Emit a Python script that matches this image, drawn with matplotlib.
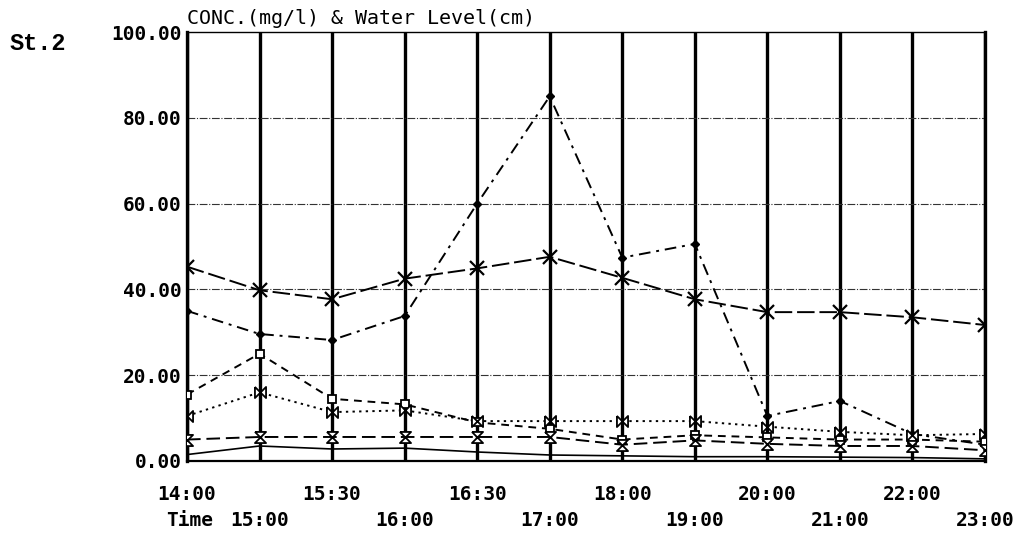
import numpy as np
import matplotlib
matplotlib.use("Agg")
import matplotlib.pyplot as plt
from matplotlib.path import Path

times = ["14:00", "15:00", "15:30", "16:00", "16:30", "17:00",
         "18:00", "19:00", "20:00", "21:00", "22:00", "23:00"]
water_level = [45.3, 39.8, 37.7, 42.5, 44.9, 47.6, 42.7, 37.7, 34.7, 34.7, 33.5, 31.7]
conc_a = [35.0, 29.6, 28.2, 33.8, 60.0, 85.0, 47.4, 50.6, 10.5, 14.0, 6.3, 3.8]
conc_b = [15.5, 25.0, 14.5, 13.2, 9.0, 7.5, 5.0, 6.0, 5.5, 5.0, 5.0, 4.5]
conc_c = [10.5, 16.0, 11.4, 11.8, 9.3, 9.3, 9.3, 9.3, 8.0, 6.8, 6.0, 6.3]
conc_d = [5.0, 5.6, 5.6, 5.6, 5.6, 5.6, 3.8, 4.8, 4.0, 3.5, 3.5, 2.5]
conc_e = [1.5, 3.5, 2.8, 3.0, 2.1, 1.4, 1.2, 1.0, 1.0, 0.9, 0.8, 0.5]
y_ticks = [0, 20, 40, 60, 80, 100]

W, H = 1022, 537
fig = plt.figure(figsize=(W / 100, H / 100), dpi=100)
L, R, T, B = 187, 985, 32, 461
ax = fig.add_axes([L / W, 1 - B / H, (R - L) / W, (B - T) / H])

x = np.arange(len(times))
hourglass = Path([(-1, 1), (1, 1), (-1, -1), (1, -1), (-1, 1)])
bowtie = Path([(-1, 1), (1, -1), (1, 1), (-1, -1), (-1, 1)])

# grid
for xi in x:
    ax.axvline(xi, color="black", lw=2.4, zorder=1)
for yv in y_ticks[1:-1]:
    ax.axhline(yv, color="#333333", lw=0.8, ls=(0, (7, 1.5, 1, 1.5)), zorder=1)

k = dict(color="black", lw=1.4, zorder=3)
ax.plot(x, water_level, ls=(0, (9, 2.5)), marker="x", ms=10, mew=1.6, **k)
ax.plot(x, conc_a, ls=(0, (6, 3, 1.5, 3)), marker="D", ms=4, **k)
ax.plot(x, conc_b, ls=(0, (4, 3)), marker="s", ms=6, mfc="white", mew=1.3, **k)
ax.plot(x, conc_c, ls=(0, (1.2, 2.2)), marker=bowtie, ms=8, mfc="white", mew=1.3, **k)
ax.plot(x, conc_d, ls=(0, (7, 3)), marker=hourglass, ms=8, mfc="white", mew=1.3, **k)
ax.plot(x, conc_e, ls="-", color="black", lw=1.2, zorder=3)

ax.set_xlim(0, len(times) - 1)
ax.set_ylim(0, 100)

mono = dict(family="DejaVu Sans Mono", weight="bold", size=14)
ax.set_yticks(y_ticks)
ax.set_yticklabels([f"{v:.2f}" for v in y_ticks], **mono)
ax.tick_params(axis="y", length=0, pad=4)

ax.set_xticks(x[0::2])
ax.set_xticklabels(times[0::2], **mono)
ax.set_xticks(x[1::2], minor=True)
ax.set_xticklabels(times[1::2], minor=True, **mono)
ax.tick_params(axis="x", which="major", length=0, pad=17)
ax.tick_params(axis="x", which="minor", length=0, pad=36)

for s in ["left", "right"]:
    ax.spines[s].set_linewidth(2.4)
ax.spines["top"].set_linewidth(1.0)
ax.spines["bottom"].set_linewidth(1.6)

fig.text(166 / W, 1 - 520 / H, "Time", ha="left", va="center", **mono)
fig.text(L / W, 1 - 28 / H, "CONC.(mg/l) & Water Level(cm)", ha="left", va="bottom",
         family="DejaVu Sans Mono", size=14.4)
fig.text(10 / W, 1 - 44 / H, "St.2", ha="left", va="center",
         family="Liberation Mono", weight="bold", size=17)

fig.savefig("out.png", dpi=100)
